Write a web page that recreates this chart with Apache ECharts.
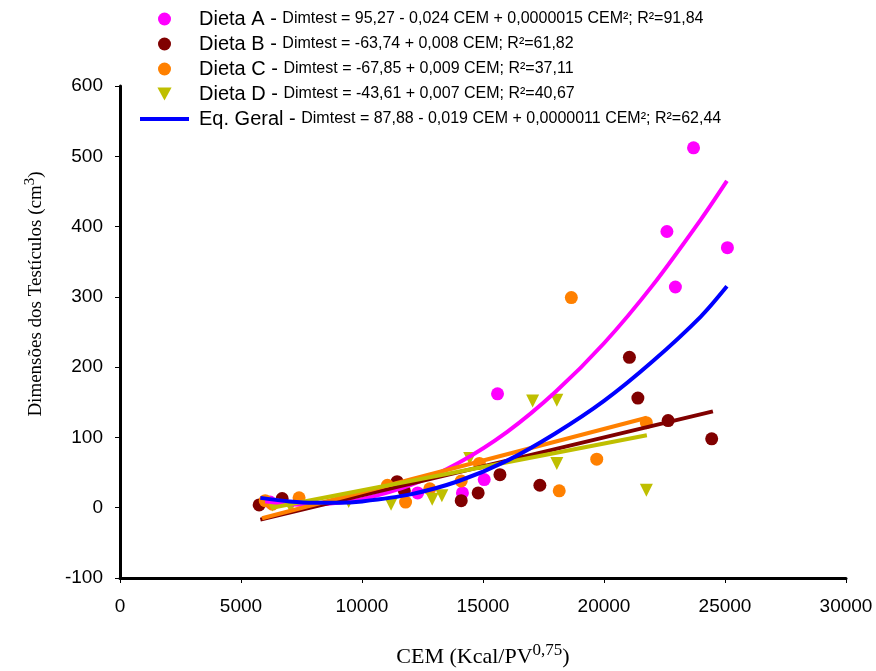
<!DOCTYPE html>
<html><head><meta charset="utf-8">
<script src="https://cdn.jsdelivr.net/npm/echarts@6/dist/echarts.min.js"></script>
<style>html,body{margin:0;padding:0;background:#fff}#c{width:876px;height:671px}</style>
</head><body><div id="c"></div>
<script>
// Observed data points [CEM, Dimtest]
const dietaA = [[6200,8],[12300,21],[14150,21],[15050,40],[15600,162],[22600,393],[22950,314],[23700,512],[25100,370]];
const dietaB = [[5750,4],[6700,13],[11450,37],[11750,24],[14100,10],[14800,21],[15700,47],[17350,32],[21050,214],[21400,156],[22650,124],[24450,98]];
const dietaC = [[6000,10],[6300,5],[7400,14],[11050,32],[11800,8],[12800,27],[14100,38],[14850,63],[18150,24],[18650,299],[19700,69],[21750,121]];
const dietaD = [[6300,4],[7050,1],[9450,9],[11200,5],[12900,12],[13300,17],[14450,70],[17050,152],[18050,153],[18050,63],[21750,25]];
// Trend lines
const trendA = [[6000,9],[7000,5],[8000,4],[9000,7],[10000,12],[12000,32],[14000,64],[16000,108],[18000,165],[20000,234],[22000,316],[24000,410],[25080,465]];
const trendB = [[5800,-17],[24500,137]];
const trendC = [[5870,-15],[21770,128]];
const trendD = [[6280,0],[21770,103]];
const trendGeral = [[5800,14],[7000,9],[8000,7],[9000,7],[10000,9],[12000,19],[14000,38],[16000,67],[18000,106],[20000,152],[22000,208],[24000,272],[25080,315]];
// Legend texts
const legendNames = ['Dieta A','Dieta B','Dieta C','Dieta D','Eq. Geral'];
const legendEqs = [
  'Dimtest = 95,27 - 0,024 CEM + 0,0000015 CEM²; R²=91,84',
  'Dimtest = -63,74 + 0,008 CEM; R²=61,82',
  'Dimtest = -67,85 + 0,009 CEM; R²=37,11',
  'Dimtest = -43,61 + 0,007 CEM; R²=40,67',
  'Dimtest = 87,88 - 0,019 CEM + 0,0000011 CEM²; R²=62,44'
];
const xTitle = ['CEM (Kcal/PV', '0,75', ')'];
const yTitle = ['Dimensões dos Testículos (cm', '3', ')'];
const colors = {A:'#FF00FF', B:'#800000', C:'#FF8000', D:'#BFBF00', G:'#0000FF'};

const chart = echarts.init(document.getElementById('c'), null, {renderer:'canvas'});
const sans = 'Liberation Sans, Arial, sans-serif';
const serif = 'Liberation Serif, Times New Roman, serif';

function scatter(name, data, color, symbol, rot){
  return {name, type:'scatter', data, symbol, symbolSize: 13, symbolRotate: rot||0, symbolKeepAspect:true,
    itemStyle:{color, opacity:1}, z:2};
}
function trend(data, color, smooth){
  return {type:'line', data, smooth: smooth?0.3:false, showSymbol:false, symbol:'none',
    lineStyle:{color, width:4}, z:3, silent:true, legendHoverLink:false};
}
function titleRich(size, supSize){
  return { a:{fontFamily:serif, fontSize:size, color:'#000', lineHeight:size+4, verticalAlign:'bottom'},
           s:{fontFamily:serif, fontSize:supSize, color:'#000', lineHeight:supSize+1, verticalAlign:'top'} };
}

chart.setOption({
  animation:false,
  backgroundColor:'#fff',
  grid:{left:120, right:30, top:86, bottom:93, containLabel:false, outerBoundsMode:'none'},
  legend:{
    data: [
      {name:'Dieta A', icon:'circle'},
      {name:'Dieta B', icon:'circle'},
      {name:'Dieta C', icon:'circle'},
      {name:'Dieta D', icon:'path://M0,0L12,0L6,11Z'},
      {name:'Eq. Geral', icon:'path://M0,0L49,0L49,4L0,4Z'}
    ],
    symbolKeepAspect:true,
    orient:'vertical', left:135, top:4, itemWidth:49, itemHeight:13, itemGap:5,
    formatter: function(n){ const i = legendNames.indexOf(n); return '{n|' + n + ' - }{e|' + legendEqs[i] + '}'; },
    textStyle:{ rich:{ n:{fontFamily:sans, fontSize:20, color:'#000', lineHeight:22, padding:[0,0,0,5]}, e:{fontFamily:sans, fontSize:16, color:'#000', lineHeight:22} } }
  },
  xAxis:{
    type:'value', min:0, max:30000, interval:5000,
    name:'{a|' + xTitle[0] + '}{s|' + xTitle[1] + '}{a|' + xTitle[2] + '}', nameLocation:'middle', nameGap:64,
    nameTextStyle:{ rich: titleRich(22, 17) },
    axisLine:{show:true, onZero:false, lineStyle:{color:'#000', width:3}},
    axisTick:{show:true, length:5, lineStyle:{color:'#000', width:1}},
    axisLabel:{color:'#000', fontFamily:sans, fontSize:19, margin:19, formatter: v => String(v)},
    splitLine:{show:false}
  },
  yAxis:{
    type:'value', min:-100, max:600, interval:100,
    name:'{a|' + yTitle[0] + '}{s|' + yTitle[1] + '}{a|' + yTitle[2] + '}', nameLocation:'middle', nameGap:74,
    nameTextStyle:{ rich: titleRich(19, 15), padding:[0,0,0,76] },
    axisLine:{show:true, onZero:false, lineStyle:{color:'#000', width:3}},
    axisTick:{show:true, length:5, lineStyle:{color:'#000', width:1}},
    axisLabel:{color:'#000', fontFamily:sans, fontSize:19, margin:17, formatter: v => String(v)},
    splitLine:{show:false}
  },
  series:[
    scatter('Dieta A', dietaA, colors.A, 'circle'),
    scatter('Dieta B', dietaB, colors.B, 'circle'),
    scatter('Dieta C', dietaC, colors.C, 'circle'),
    scatter('Dieta D', dietaD, colors.D, 'triangle', 180),
    trend(trendA, colors.A, true),
    trend(trendB, colors.B, false),
    trend(trendC, colors.C, false),
    trend(trendD, colors.D, false),
    {name:'Eq. Geral', type:'line', data: trendGeral, smooth:0.3, showSymbol:false, symbol:'none', symbolKeepAspect:true,
     lineStyle:{color:colors.G, width:4}, itemStyle:{color:colors.G}, z:4}
  ]
});
</script></body></html>
